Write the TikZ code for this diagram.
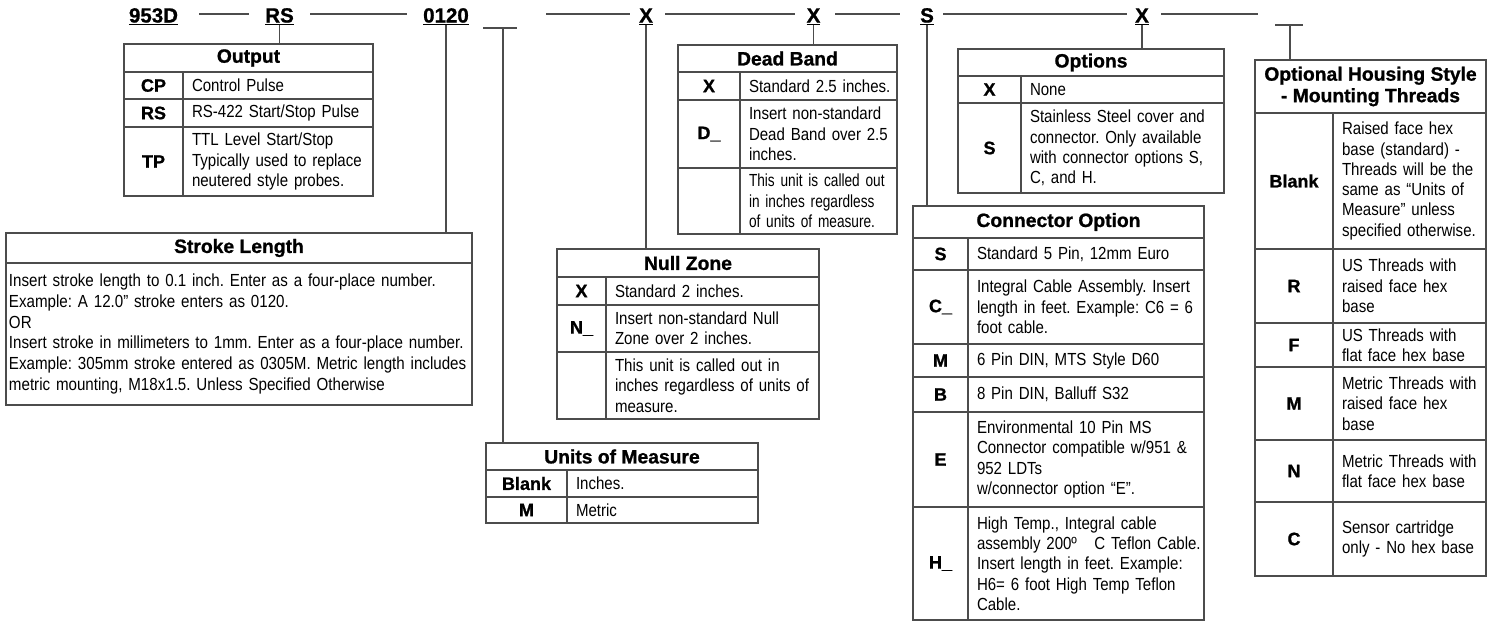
\documentclass[tikz,border=0pt]{standalone}
\usepackage{fontspec}
\setmainfont{Liberation Sans}
\newfontfamily\narrowsf{Liberation Sans}[FakeStretch=0.86]
\newfontfamily\tightsf{Liberation Sans}[FakeStretch=0.78]
\newfontfamily\notesf{Liberation Sans}[FakeStretch=0.865]
\newfontfamily\heavysf{Liberation Sans}[BoldFeatures={FakeBold=1}]

\definecolor{rulegray}{gray}{0.3}

\newcommand\descfont{\narrowsf\fontsize{17.5}{20.3}\selectfont}
\newcommand\tightfont{\tightsf\fontsize{17.5}{20.3}\selectfont}
\newcommand\notefont{\notesf\fontsize{17.5}{20.7}\selectfont}
\newcommand\headfont{\heavysf\bfseries\fontsize{19.3}{21.5}\selectfont}
\newcommand\codefont{\heavysf\bfseries\fontsize{18}{20}\selectfont}
\newcommand\partfont{\heavysf\bfseries\fontsize{20.5}{22}\selectfont}

\tikzset{
  rule/.style={draw=rulegray, line width=1.4pt},
  cell/.style={rule, anchor=north west, outer sep=0pt, inner sep=0pt},
  headcell/.style={cell, font=\headfont, align=center},
  codecell/.style={cell, font=\codefont, align=center},
  textcell/.style={cell, align=left, execute at begin node={\rightskip=0pt plus 1fil minus 80pt}},
  desccell/.style={textcell, font=\descfont, inner xsep=9pt, text width=#1-18},
  part/.style={font=\partfont, anchor=base, inner sep=0pt},
}

\begin{document}
\frenchspacing
\begin{tikzpicture}[x=1pt, y=-1pt]
\useasboundingbox (0,0) rectangle (1491,622);

% model number
\node[part] (p953) at (153.5,22.5) {\underline{953D}};
\node[part] (prs) at (279.5,22.5) {\underline{RS}};
\node[part] (p0120) at (446,22.5) {\underline{0120}};
\node[part] (pnull) at (646,22.5) {\underline{X}};
\node[part] (pdead) at (813.5,22.5) {\underline{X}};
\node[part] (pconn) at (927,22.5) {\underline{S}};
\node[part] (popt) at (1142,22.5) {\underline{X}};
\coordinate (punits) at (503,28);
\coordinate (phousing) at (1290,25);

\foreach \a/\b in {199/249, 310/407, 546/630, 665/795, 835/900, 943/1127, 1161/1258}
  \draw[rule] (\a,14) -- (\b,14);
\draw[rule] (483,28) -- (517,28);
\draw[rule] (1275,25) -- (1303,25);

% Output
\node[headcell, minimum width=249, minimum height=28] (output) at (124,44) {Output};
\node[codecell, minimum width=59, minimum height=27] (outCP) at (124,72) {CP};
\node[desccell=190, minimum height=27] (outCPtext) at (183,72) {Control Pulse};
\node[codecell, minimum width=59, minimum height=28] (outRS) at (124,99) {RS};
\node[desccell=190, minimum height=28] (outRStext) at (183,99) {RS-422 Start/Stop Pulse};
\node[codecell, minimum width=59, minimum height=69] (outTP) at (124,127) {TP};
\node[desccell=190, minimum height=69] (outTPtext) at (183,127) {TTL Level Start/Stop\\Typically used to replace\\neutered style probes.};

% Stroke Length
\node[headcell, minimum width=466, minimum height=30] (stroke) at (6,233) {Stroke Length};
\node[textcell, font=\notefont, inner xsep=3pt, text width=460, minimum height=142] (stroketext) at (6,263)
  {Insert stroke length to 0.1 inch. Enter as a four-place number.\\
   Example: A 12.0” stroke enters as 0120.\\
   OR\\
   Insert stroke in millimeters to 1mm. Enter as a four-place number.\\
   Example: 305mm stroke entered as 0305M. Metric length includes\\
   metric mounting, M18x1.5. Unless Specified Otherwise};

% Units of Measure
\node[headcell, minimum width=272, minimum height=27] (units) at (486,443) {Units of Measure};
\node[codecell, minimum width=81, minimum height=27] (unitsBlank) at (486,470) {Blank};
\node[desccell=191, minimum height=27] (unitsBlanktext) at (567,470) {Inches.};
\node[codecell, minimum width=81, minimum height=26] (unitsM) at (486,497) {M};
\node[desccell=191, minimum height=26] (unitsMtext) at (567,497) {Metric};

% Null Zone
\node[headcell, minimum width=262, minimum height=28] (nullzone) at (557,249) {Null Zone};
\node[codecell, minimum width=49, minimum height=28] (nullX) at (557,277) {X};
\node[desccell=213, minimum height=28] (nullXtext) at (606,277) {Standard 2 inches.};
\node[codecell, minimum width=49, minimum height=47] (nullN) at (557,305) {N\_};
\node[desccell=213, minimum height=47] (nullNtext) at (606,305) {Insert non-standard Null\\Zone over 2 inches.};
\node[codecell, minimum width=49, minimum height=67] (nullE) at (557,352) {};
\node[desccell=213, minimum height=67] (nullEtext) at (606,352) {This unit is called out in\\inches regardless of units of\\measure.};

% Dead Band
\node[headcell, minimum width=219, minimum height=27] (deadband) at (678,45) {Dead Band};
\node[codecell, minimum width=62, minimum height=28] (deadX) at (678,72) {X};
\node[desccell=157, minimum height=28] (deadXtext) at (740,72) {Standard 2.5 inches.};
\node[codecell, minimum width=62, minimum height=68] (deadD) at (678,100) {D\_};
\node[desccell=157, minimum height=68] (deadDtext) at (740,100) {Insert non-standard\\Dead Band over 2.5\\inches.};
\node[codecell, minimum width=62, minimum height=66] (deadE) at (678,168) {};
\node[desccell=157, font=\tightfont, minimum height=66] (deadEtext) at (740,168) {This unit is called out\\in inches regardless\\of units of measure.};

% Options
\node[headcell, minimum width=266, minimum height=27] (options) at (958,49) {Options};
\node[codecell, minimum width=63, minimum height=27] (optX) at (958,76) {X};
\node[desccell=203, minimum height=27] (optXtext) at (1021,76) {None};
\node[codecell, minimum width=63, minimum height=90] (optS) at (958,103) {S};
\node[desccell=203, minimum height=90] (optStext) at (1021,103) {Stainless Steel cover and\\connector. Only available\\with connector options S,\\C, and H.};

% Connector Option
\node[headcell, minimum width=291, minimum height=32] (connector) at (913,206) {Connector Option};
\node[codecell, minimum width=55, minimum height=32] (conS) at (913,238) {S};
\node[desccell=236, minimum height=32] (conStext) at (968,238) {Standard 5 Pin, 12mm Euro};
\node[codecell, minimum width=55, minimum height=74] (conC) at (913,270) {C\_};
\node[desccell=236, minimum height=74] (conCtext) at (968,270) {Integral Cable Assembly. Insert\\length in feet. Example: C6 = 6\\foot cable.};
\node[codecell, minimum width=55, minimum height=33] (conM) at (913,344) {M};
\node[desccell=236, minimum height=33] (conMtext) at (968,344) {6 Pin DIN, MTS Style D60};
\node[codecell, minimum width=55, minimum height=35] (conB) at (913,377) {B};
\node[desccell=236, minimum height=35] (conBtext) at (968,377) {8 Pin DIN, Balluff S32};
\node[codecell, minimum width=55, minimum height=95] (conE) at (913,412) {E};
\node[desccell=236, minimum height=95] (conEtext) at (968,412) {Environmental 10 Pin MS\\Connector compatible w/951 \&\\952 LDTs\\w/connector option “E”.};
\node[codecell, minimum width=55, minimum height=113] (conH) at (913,507) {H\_};
\node[desccell=236, minimum height=113] (conHtext) at (968,507) {High Temp., Integral cable\\assembly 200º\ \ \ C Teflon Cable.\\Insert length in feet. Example:\\H6= 6 foot High Temp Teflon\\Cable.};

% Optional Housing Style
\node[headcell, minimum width=231, minimum height=53] (housing) at (1255,60) {Optional Housing Style\\- Mounting Threads};
\node[codecell, minimum width=78, minimum height=136] (houBlank) at (1255,113) {Blank};
\node[desccell=153, minimum height=136] (houBlanktext) at (1333,113) {Raised face hex\\base (standard) -\\Threads will be the\\same as “Units of\\Measure” unless\\specified otherwise.};
\node[codecell, minimum width=78, minimum height=74] (houR) at (1255,249) {R};
\node[desccell=153, minimum height=74] (houRtext) at (1333,249) {US Threads with\\raised face hex\\base};
\node[codecell, minimum width=78, minimum height=44] (houF) at (1255,323) {F};
\node[desccell=153, minimum height=44] (houFtext) at (1333,323) {US Threads with\\flat face hex base};
\node[codecell, minimum width=78, minimum height=73] (houM) at (1255,367) {M};
\node[desccell=153, minimum height=73] (houMtext) at (1333,367) {Metric Threads with\\raised face hex\\base};
\node[codecell, minimum width=78, minimum height=62] (houN) at (1255,440) {N};
\node[desccell=153, minimum height=62] (houNtext) at (1333,440) {Metric Threads with\\flat face hex base};
\node[codecell, minimum width=78, minimum height=74] (houC) at (1255,502) {C};
\node[desccell=153, minimum height=74] (houCtext) at (1333,502) {Sensor cartridge\\only - No hex base};

% leaders down to the tables
\draw[rule] (prs.south) -- (prs.south |- output.north);
\draw[rule] (p0120.south) -- (p0120.south |- stroke.north);
\draw[rule] (punits) -- (punits |- units.north);
\draw[rule] (pnull.south) -- (pnull.south |- nullzone.north);
\draw[rule] (pdead.south) -- (pdead.south |- deadband.north);
\draw[rule] (pconn.south) -- (pconn.south |- connector.north);
\draw[rule] (popt.south) -- (popt.south |- options.north);
\draw[rule] (phousing) -- (phousing |- housing.north);
\end{tikzpicture}
\end{document}
